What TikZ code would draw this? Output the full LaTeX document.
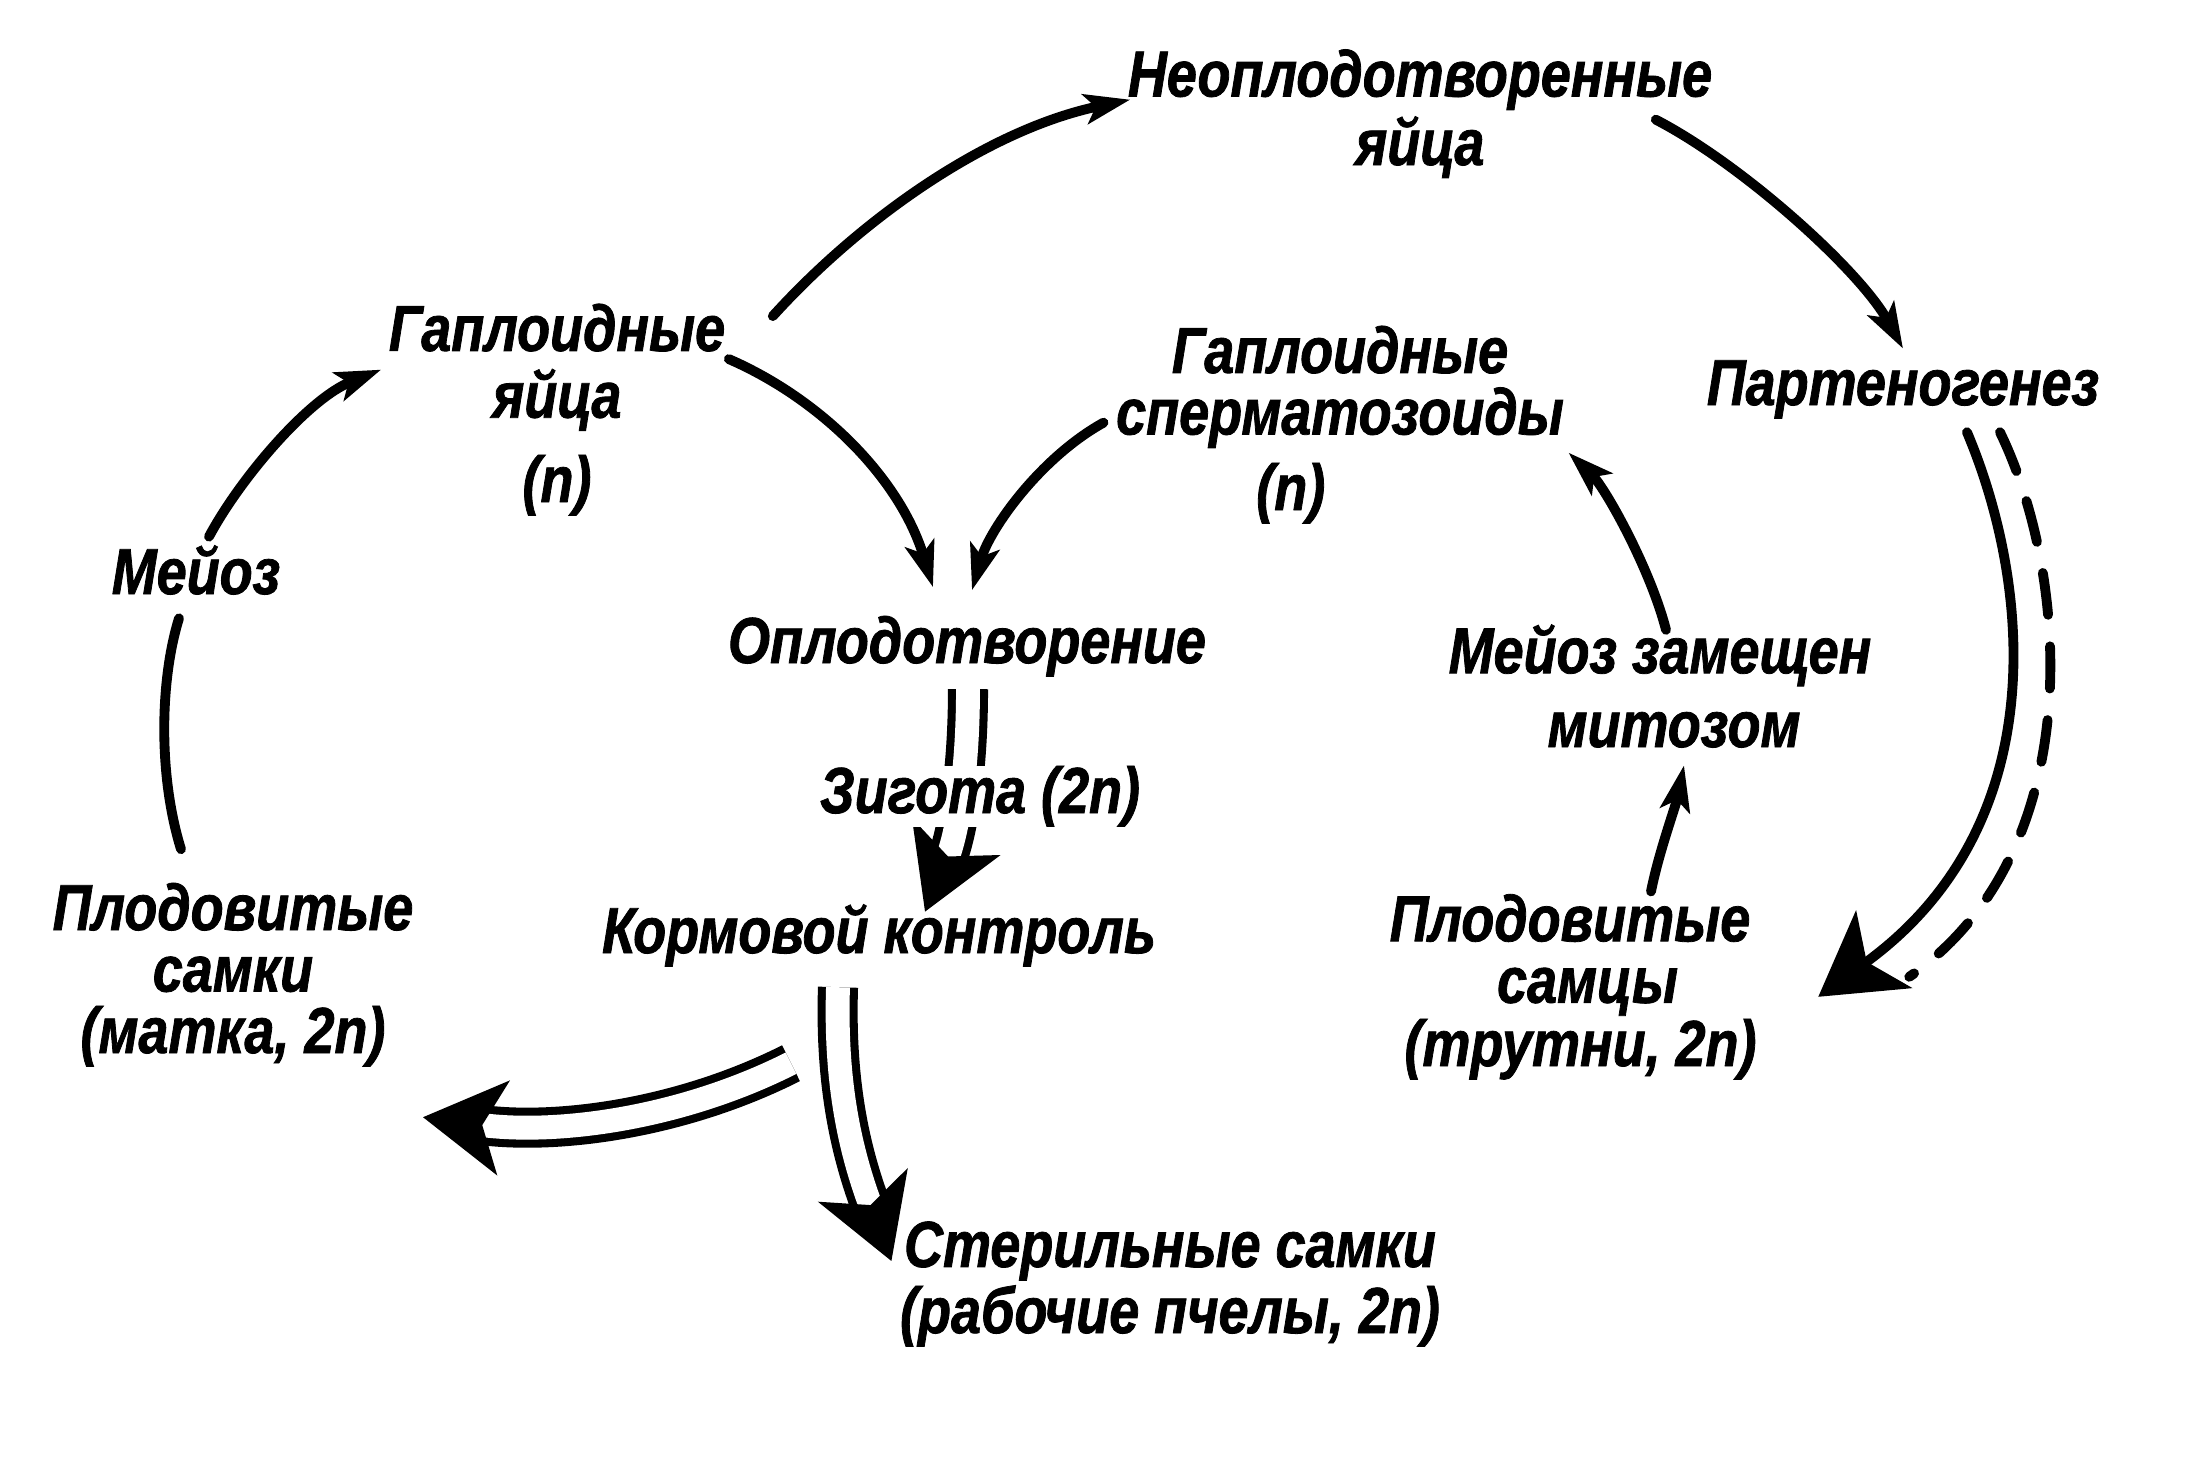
\documentclass[tikz,border=0pt]{standalone}
\usepackage{fontspec}
\newfontfamily\lblfont{Liberation Sans}[FakeStretch=0.83, BoldItalicFeatures={FakeBold=1.2}]
\usetikzlibrary{arrows.meta}
\setlength{\lineskiplimit}{-50pt}

\begin{document}
\begin{tikzpicture}[x=0.1mm, y=-0.1mm,
    lbl/.style={font=\lblfont\bfseries\itshape\fontsize{18.5}{17.5}\selectfont, align=center, inner sep=0pt, anchor=base},
    arr/.style={line width=2.8pt, line cap=round, -{Stealth[length=13pt, width=8.5pt, inset=3pt]}},
    link/.style={line width=2.8pt, line cap=round},
    bigarr/.style={line width=2.8pt, line cap=round, -{Stealth[length=23pt, width=27pt, inset=6pt]}},
    dashlink/.style={line width=2.8pt, line cap=round, dash pattern=on 12pt off 9pt},
    fat/.style={double, line width=2.3pt, double distance=6.8pt, -{Stealth[length=23pt, width=27pt, inset=6pt]}},
  ]
  \useasboundingbox (0,0) rectangle (2188,1476);

  \node[lbl] (ne) at (1420,165) {Неоплодотворенные\\[2pt]яйца};
  \node[lbl] (ge) at (557,502) {Гаплоидные\\[1.5pt]яйца\\[6.5pt](n)};
  \node[lbl] (gs) at (1340,510) {Гаплоидные\\[0pt]сперматозоиды\\[4pt](n)\hspace*{28pt}};
  \node[lbl] (pg) at (1903,405) {Партеногенез};
  \node[lbl] (mz) at (196,594) {Мейоз};
  \node[lbl] (op) at (967,663) {Оплодотворение};
  \node[lbl] (mm) at (1660,747) {Мейоз замещен\\[3.5pt]\hspace*{8pt}митозом};
  \node[lbl] (kk) at (879,953) {Кормовой контроль};
  \node[lbl] (pf) at (233,1053) {Плодовитые\\самки\\(матка, 2n)};
  \node[lbl] (pm) at (1570,1066) {Плодовитые\\[0pt]\hspace*{10pt}самцы\\[0.5pt]\hspace*{6pt}(трутни, 2n)};
  \node[lbl] (sw) at (1170,1333) {Стерильные самки\\[1.3pt](рабочие пчелы, 2n)};

  \draw[arr] ([shift={(13,-8)}]mz.north) .. controls +(31,-58) and +(-73,29) .. ([shift={(-7,-40)}]ge.west);
  \draw[link] ([shift={(-52,-33)}]pf.north) .. controls +(-23,-74) and +(-19,61) .. ([shift={(-17,23)}]mz.south);
  \draw[arr] ([shift={(47,13)}]ge.north east) .. controls +(88,-97) and +(-143,30) .. ([shift={(3,-14)}]ne.west);
  \draw[arr] ([shift={(-57,6)}]ne.east) .. controls +(87,45) and +(-43,-78) .. ([shift={(0,-11)}]pg.north);
  \draw[arr] ([shift={(3,56)}]ge.north east) .. controls +(92,40) and +(-33,-109) .. ([shift={(-34,-28)}]op.north);
  \draw[arr] ([shift={(-12,-2)}]gs.west) .. controls +(-63,35) and +(18,-62) .. ([shift={(5,-25)}]op.north);
  \draw[arr] ([shift={(6,6)}]mm.north) .. controls +(-16,-62) and +(36,34) .. ([shift={(4,28)}]gs.east);
  \draw[arr] ([shift={(81,-2)}]pm.north) .. controls +(8,-40) and +(-8,40) .. ([shift={(24,17)}]mm.south);
  \draw[bigarr] ([shift={(64,13)}]pg.south) .. controls +(63,149) and +(238,-172) .. ([shift={(61,10)}]pm.east);
  \draw[dashlink] ([shift={(97,13)}]pg.south) .. controls +(70,144) and +(180,-125) .. ([shift={(152,-10)}]pm.east);

  \draw[fat] ([shift={(1,12)}]op.south) .. controls +(0,92) and +(30,-72) .. ([shift={(46,8)}]kk.north);
  \draw[fat] ([shift={(-41,20)}]kk.south) .. controls +(-3,94) and +(-42,-112) .. ([shift={(-8,-23)}]sw.west);
  \draw[fat] ([shift={(-88,96)}]kk.south) .. controls +(-109,55) and +(135,18) .. ([shift={(9,50)}]pf.south east);

  \node[lbl, fill=white] (zg) at (980,813) {Зигота (2n)};
\end{tikzpicture}
\end{document}
